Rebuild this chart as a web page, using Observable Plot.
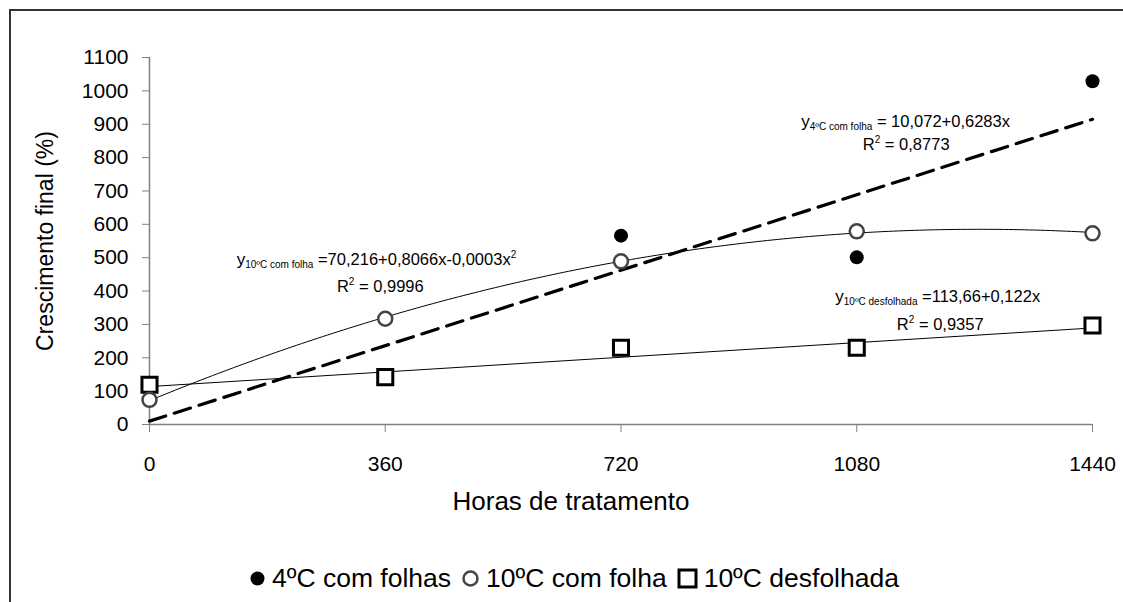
<!DOCTYPE html>
<html><head><meta charset="utf-8">
<script src="https://cdn.jsdelivr.net/npm/d3@7"></script>
<script src="https://cdn.jsdelivr.net/npm/@observablehq/plot@0.6"></script>
<style>
html,body{margin:0;padding:0;background:#fff;overflow:hidden;width:1123px;height:602px;}
body{font-family:"Liberation Sans",Arial,sans-serif;position:relative;}
#frame{position:absolute;left:9px;top:9px;width:1300px;height:800px;border-left:2px solid #333;border-top:2px solid #333;box-sizing:border-box;}
#chart{position:absolute;left:0;top:0;}
#legend{position:absolute;left:0;top:558px;width:1148px;height:40px;display:flex;justify-content:center;align-items:center;font-size:26.5px;color:#000;}
#legend .item{display:flex;align-items:center;margin:0 5px;}
#legend svg{margin-right:6px;}
</style>
</head><body>
<div id="frame"></div>
<div id="chart"></div>
<div id="legend"></div>
<script>
// ---- data ----
const xTicks = [0, 360, 720, 1080, 1440];
const yTicks = [0, 100, 200, 300, 400, 500, 600, 700, 800, 900, 1000, 1100];
const hours = [0, 360, 720, 1080, 1440];
const hours4 = [720, 1080, 1440];
const val4com = [566, 501, 1029];          // 4ºC com folhas (filled circles)
const val10com = [74, 317, 489, 579, 573];  // 10ºC com folha (open circles)
const val10des = [119, 142, 230, 230, 297]; // 10ºC desfolhada (squares)
const coef4com = [10.072, 0.6283];          // printed equation y = a + b x
const coef10des = [113.66, 0.122];          // printed equation y = a + b x
const seriesNames = ["4ºC com folhas", "10ºC com folha", "10ºC desfolhada"];

// tables
const pts4 = hours4.map((h, i) => ({x: h, y: val4com[i]}));
const pts10 = hours.map((h, i) => ({x: h, y: val10com[i]}));
const pts10d = hours.map((h, i) => ({x: h, y: val10des[i]}));

// least-squares quadratic fit for 10ºC com folha
function quadFit(xs, ys) {
  const n = xs.length;
  let S = [0,0,0,0,0], T = [0,0,0];
  for (let i = 0; i < n; i++) {
    const x = xs[i], y = ys[i];
    for (let k = 0; k < 5; k++) S[k] += Math.pow(x, k);
    for (let k = 0; k < 3; k++) T[k] += Math.pow(x, k) * y;
  }
  const A = [[S[0],S[1],S[2],T[0]],[S[1],S[2],S[3],T[1]],[S[2],S[3],S[4],T[2]]];
  for (let c = 0; c < 3; c++) {
    let p = c; for (let r = c+1; r < 3; r++) if (Math.abs(A[r][c]) > Math.abs(A[p][c])) p = r;
    [A[c], A[p]] = [A[p], A[c]];
    for (let r = 0; r < 3; r++) if (r !== c) {
      const f = A[r][c] / A[c][c];
      for (let k = c; k < 4; k++) A[r][k] -= f * A[c][k];
    }
  }
  return [A[0][3]/A[0][0], A[1][3]/A[1][1], A[2][3]/A[2][2]];
}
const q = quadFit(hours, val10com);
const xs = d3.range(0, 1441, 8);
const curve10 = xs.map(x => ({x, y: q[0] + q[1]*x + q[2]*x*x}));
const line4 = [0, 1440].map(x => ({x, y: coef4com[0] + coef4com[1]*x}));
const line10d = [0, 1440].map(x => ({x, y: coef10des[0] + coef10des[1]*x}));

const FONT = "Liberation Sans, Arial, sans-serif";
const plot = Plot.plot({
  width: 1123, height: 555,
  marginLeft: 149, marginRight: 31, marginTop: 57, marginBottom: 131,
  style: {fontFamily: FONT, fontSize: "21px", color: "#000", background: "transparent", overflow: "visible"},
  x: {domain: [0, 1440]},
  y: {domain: [0, 1100]},
  marks: [
    Plot.axisX({ticks: xTicks, tickSize: 8, tickPadding: 24, stroke: "#808080", fill: "#000", label: null, tickFormat: d => String(d)}),
    Plot.axisY({ticks: yTicks, tickSize: 7, tickPadding: 14, stroke: "#808080", fill: "#000", label: null, tickFormat: d => String(d)}),
    Plot.ruleY([0], {stroke: "#808080", strokeWidth: 1.5}),
    Plot.ruleX([0], {stroke: "#808080", strokeWidth: 1.5}),
    Plot.text(["Horas de tratamento"], {frameAnchor: "bottom", dx: -50, dy: 85, fontSize: 26, fill: "#000", textAnchor: "middle"}),
    Plot.text(["Crescimento final (%)"], {frameAnchor: "left", dx: -104, rotate: -90, fontSize: 23, fill: "#000", textAnchor: "middle"}),
    Plot.line(curve10, {x: "x", y: "y", stroke: "#000", strokeWidth: 1}),
    Plot.line(line10d, {x: "x", y: "y", stroke: "#000", strokeWidth: 1}),
    Plot.line(line4, {x: "x", y: "y", stroke: "#000", strokeWidth: 3.2, strokeDasharray: "17,9"}),
    Plot.dot(pts10d, {x: "x", y: "y", symbol: "square", r: 8.5, stroke: "#000", strokeWidth: 3, fill: "#fff"}),
    Plot.dot(pts10, {x: "x", y: "y", r: 7, stroke: "#444", strokeWidth: 2.5, fill: "#fff"}),
    Plot.dot(pts4, {x: "x", y: "y", r: 7, fill: "#000", stroke: "none"})
  ]
});
document.getElementById("chart").appendChild(plot);

// equation annotations (placed in data coordinates through the plot scales)
const sx = plot.scale("x"), sy = plot.scale("y");
const svg = d3.select(plot);
const notes = [
  {x: 134, y: 477, parts: [["y",17,0],["10ºC com folha",10,3],[" =70,216+0,8066x-0,0003x",16.5,-3],["2",10,-7]]},
  {x: 287, y: 396, parts: [["R",16.5,0],["2",10,-7],[" = 0,9996",16.5,7]]},
  {x: 996, y: 890, parts: [["y",17,0],["4ºC com folha",10,3],[" = 10,072+0,6283x",16.5,-3]]},
  {x: 1090, y: 821, parts: [["R",16.5,0],["2",10,-7],[" = 0,8773",16.5,7]]},
  {x: 1048, y: 366, parts: [["y",17,0],["10ºC desfolhada",10,3],[" =113,66+0,122x",16.5,-3]]},
  {x: 1142, y: 282, parts: [["R",16.5,0],["2",10,-7],[" = 0,9357",16.5,7]]}
];
notes.forEach(n => {
  const t = svg.append("text")
    .attr("x", sx.apply(n.x)).attr("y", sy.apply(n.y))
    .attr("font-family", FONT).attr("fill", "#000")
    .attr("text-anchor", "start")
    .style("white-space", "pre");
  n.parts.forEach(([s, fs, dy]) => {
    t.append("tspan").attr("font-size", fs).attr("dy", dy).text(s);
  });
});

// legend
const legend = document.getElementById("legend");
const sym = [
  '<svg width="17" height="17"><circle cx="8.5" cy="8.5" r="7" fill="#000"/></svg>',
  '<svg width="19" height="19"><circle cx="9.5" cy="9.5" r="7" fill="#fff" stroke="#444" stroke-width="2.5"/></svg>',
  '<svg width="21" height="21"><rect x="2" y="2" width="17" height="17" fill="#fff" stroke="#000" stroke-width="3"/></svg>'
];
seriesNames.forEach((s, i) => {
  const d = document.createElement("span");
  d.className = "item";
  d.innerHTML = sym[i] + "<span>" + s + "</span>";
  legend.appendChild(d);
});
</script>
</body></html>
